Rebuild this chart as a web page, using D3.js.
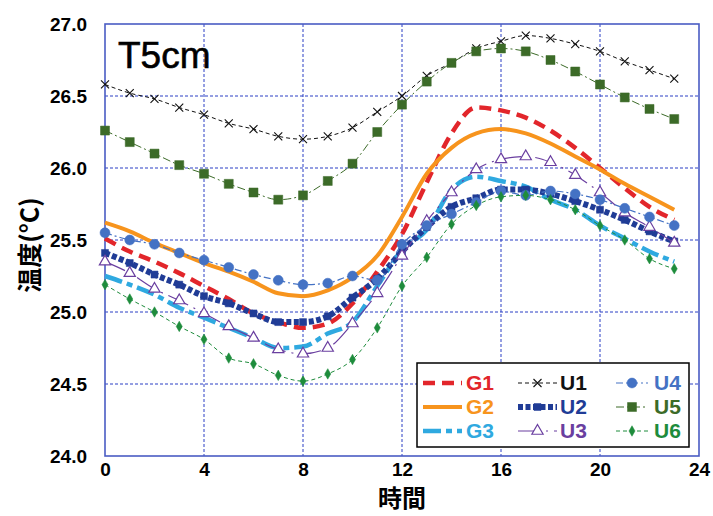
<!DOCTYPE html>
<html>
<head>
<meta charset="utf-8">
<script src="https://cdn.jsdelivr.net/npm/d3@7"></script>
<style>
  html, body { margin: 0; padding: 0; background: #fff; }
  svg { display: block; }
</style>
</head>
<body>
<svg id="chart" width="713" height="516"></svg>
<script>
const hours = [0,1,2,3,4,5,6,7,8,9,10,11,12,13,14,15,16,17,18,19,20,21,22,23];
const G1 = [25.51,25.42,25.35,25.27,25.18,25.09,24.99,24.93,24.89,24.92,25.06,25.28,25.54,25.90,26.24,26.42,26.40,26.35,26.26,26.14,26.00,25.86,25.73,25.64];
const G2 = [25.62,25.56,25.48,25.41,25.34,25.28,25.21,25.13,25.11,25.15,25.24,25.39,25.66,25.96,26.14,26.24,26.27,26.24,26.17,26.08,25.99,25.89,25.80,25.71];
const G3 = [25.25,25.19,25.12,25.03,24.96,24.89,24.82,24.75,24.76,24.85,24.93,25.18,25.43,25.57,25.85,25.94,25.91,25.87,25.78,25.71,25.60,25.51,25.42,25.35];
const U1 = [26.58,26.52,26.48,26.42,26.37,26.31,26.27,26.22,26.20,26.22,26.28,26.39,26.50,26.64,26.73,26.83,26.88,26.92,26.90,26.86,26.81,26.74,26.68,26.62];
const U2 = [25.41,25.34,25.26,25.19,25.11,25.06,24.99,24.93,24.93,24.97,25.10,25.23,25.42,25.59,25.73,25.79,25.85,25.85,25.82,25.77,25.71,25.64,25.56,25.49];
const U3 = [25.35,25.27,25.16,25.08,24.99,24.90,24.82,24.74,24.71,24.75,24.92,25.13,25.39,25.63,25.83,25.99,26.06,26.08,26.04,25.95,25.83,25.69,25.59,25.48];
const U4 = [25.55,25.50,25.47,25.41,25.36,25.31,25.26,25.22,25.19,25.20,25.25,25.22,25.47,25.60,25.68,25.76,25.84,25.81,25.84,25.82,25.78,25.72,25.66,25.60];
const U5 = [26.26,26.18,26.10,26.02,25.96,25.89,25.83,25.78,25.81,25.91,26.03,26.25,26.44,26.60,26.73,26.81,26.83,26.81,26.75,26.67,26.58,26.49,26.41,26.34];
const U6 = [25.19,25.09,25.00,24.90,24.81,24.68,24.64,24.56,24.52,24.57,24.67,24.89,25.18,25.38,25.61,25.74,25.80,25.81,25.78,25.71,25.60,25.50,25.37,25.30];
const xTicks = [0,4,8,12,16,20,24];
const yTicks = [24.0,24.5,25.0,25.5,26.0,26.5,27.0];
const seriesNames = ["G1","G2","G3","U1","U2","U3","U4","U5","U6"];
const chartTitle = "T5cm";
const xLabel = "時間";
const yLabel = "温度(°C)";

const seriesData = [G1,G2,G3,U1,U2,U3,U4,U5,U6];
const styles = {
  G1: {color:"#e2262b", width:4.5, dash:"12,7", marker:null},
  G2: {color:"#f7941d", width:4, dash:null, marker:null},
  G3: {color:"#2fa9e0", width:4.5, dash:"18,5,6,5", marker:null},
  U1: {color:"#111111", width:1, dash:"4,3", marker:"x", msize:8},
  U2: {color:"#203c96", width:6, dash:"5,2.5", marker:"square", msize:7, fill:true},
  U3: {color:"#6a3fa0", width:1.2, dash:"22,6,2,6", marker:"triangle", msize:10, fill:false},
  U4: {color:"#4472c4", width:1.2, dash:"7,3,2,3", marker:"circle", msize:10, fill:true},
  U5: {color:"#3c6b28", width:1, dash:"8,3,2,3", marker:"square", msize:9, fill:true},
  U6: {color:"#1e8c3c", width:1, dash:"4,3", marker:"diamond", msize:8, fill:true}
};

const svg = d3.select("#chart");
const pLeft = 105, pRight = 699, pTop = 24, pBottom = 456;
const x = d3.scaleLinear().domain([0,24]).range([pLeft,pRight]);
const y = d3.scaleLinear().domain([24,27]).range([pBottom,pTop]);

const gridColor = "#2b3fc4";
svg.append("g").selectAll("line").data(xTicks.slice(1,-1)).join("line")
  .attr("x1", d=>x(d)).attr("x2", d=>x(d)).attr("y1", pTop).attr("y2", pBottom)
  .attr("stroke", gridColor).attr("stroke-width",1).attr("stroke-dasharray","3,2");
svg.append("g").selectAll("line").data(yTicks.slice(1,-1)).join("line")
  .attr("x1", pLeft).attr("x2", pRight).attr("y1", d=>y(d)).attr("y2", d=>y(d))
  .attr("stroke", gridColor).attr("stroke-width",1).attr("stroke-dasharray","3,2");
svg.append("rect").attr("x",pLeft).attr("y",pTop).attr("width",pRight-pLeft).attr("height",pBottom-pTop)
  .attr("fill","none").attr("stroke","#4a5cc4").attr("stroke-width",1.6);

const xAxis = d3.axisBottom(x).tickValues(xTicks).tickSize(0).tickPadding(7).tickFormat(d3.format("d"));
const gx = svg.append("g").attr("transform",`translate(0,${pBottom})`).call(xAxis);
gx.select(".domain").remove();
gx.selectAll("text").attr("font-family","Liberation Sans, Arial, sans-serif").attr("font-weight","bold")
  .attr("font-size","19px").attr("fill","#000");
const yAxis = d3.axisLeft(y).tickValues(yTicks).tickSize(0).tickPadding(18).tickFormat(d3.format(".1f"));
const gy = svg.append("g").attr("transform",`translate(${pLeft},0)`).call(yAxis);
gy.select(".domain").remove();
gy.selectAll("text").attr("font-family","Liberation Sans, Arial, sans-serif").attr("font-weight","bold")
  .attr("font-size","19px").attr("fill","#000");

svg.append("text").attr("x",402).attr("y",507).attr("text-anchor","middle")
  .attr("font-family","Noto Sans CJK JP, sans-serif").attr("font-weight","bold").attr("font-size","24px")
  .text(xLabel);
svg.append("text").attr("transform","translate(39,245) rotate(-90)").attr("text-anchor","middle")
  .attr("font-family","Noto Sans CJK JP, sans-serif").attr("font-weight","bold").attr("font-size","25px")
  .text(yLabel);
svg.append("text").attr("x",118).attr("y",68)
  .attr("font-family","Liberation Sans, Arial, sans-serif").attr("font-size","37px").attr("fill","#000")
  .attr("stroke","#000").attr("stroke-width",0.6)
  .text(chartTitle);

function markerPath(type, size) {
  const a = size*size;
  if (type === "square") return d3.symbol().type(d3.symbolSquare).size(a)();
  if (type === "triangle") return d3.symbol().type(d3.symbolTriangle).size(a*0.55)();
  if (type === "circle") return d3.symbol().type(d3.symbolCircle).size(a*0.78)();
  if (type === "diamond") return d3.symbol().type(d3.symbolDiamond).size(a*0.5)();
  if (type === "x") { const h = size/2; return `M${-h},${-h}L${h},${h}M${-h},${h}L${h},${-h}`; }
  return "";
}
function drawMarker(g, st, cx, cy) {
  if (!st.marker) return;
  const p = g.append("path").attr("d", markerPath(st.marker, st.msize))
    .attr("transform", `translate(${cx},${cy})`);
  if (st.marker === "x") p.attr("fill","none").attr("stroke",st.color).attr("stroke-width",1.1);
  else if (st.fill) p.attr("fill",st.color).attr("stroke",st.color).attr("stroke-width",0.5);
  else p.attr("fill","#fff").attr("stroke",st.color).attr("stroke-width",1.2);
}

const line = d3.line().x((d,i)=>x(hours[i])).y(d=>y(d)).curve(d3.curveMonotoneX);
const plot = svg.append("g");
seriesNames.forEach((name, si) => {
  const st = styles[name];
  const data = seriesData[si];
  plot.append("path").datum(data).attr("d", line).attr("fill","none")
    .attr("stroke", st.color).attr("stroke-width", st.width)
    .attr("stroke-dasharray", st.dash).attr("stroke-linejoin","round");
  const mg = plot.append("g");
  data.forEach((v,i)=> drawMarker(mg, st, x(hours[i]), y(v)));
});

const lg = svg.append("g");
lg.append("rect").attr("x",417).attr("y",363).attr("width",272).attr("height",84)
  .attr("fill","#fff").attr("stroke","#000").attr("stroke-width",1.5);
const cols = [{x1:423,x2:462,tx:466},{x1:518,x2:557,tx:560},{x1:616,x2:648,tx:654}];
const rows = [383,407,431];
seriesNames.forEach((name, si) => {
  const st = styles[name];
  const c = cols[Math.floor(si/3)], r = rows[si%3];
  lg.append("line").attr("x1",c.x1).attr("x2",c.x2).attr("y1",r).attr("y2",r)
    .attr("stroke",st.color).attr("stroke-width",st.width).attr("stroke-dasharray",st.dash);
  drawMarker(lg, st, (c.x1+c.x2)/2, r);
  lg.append("text").attr("x",c.tx).attr("y",r+7).attr("fill",st.color)
    .attr("font-family","Liberation Sans, Arial, sans-serif").attr("font-weight","bold").attr("font-size","21px")
    .text(name);
});
</script>
</body>
</html>
